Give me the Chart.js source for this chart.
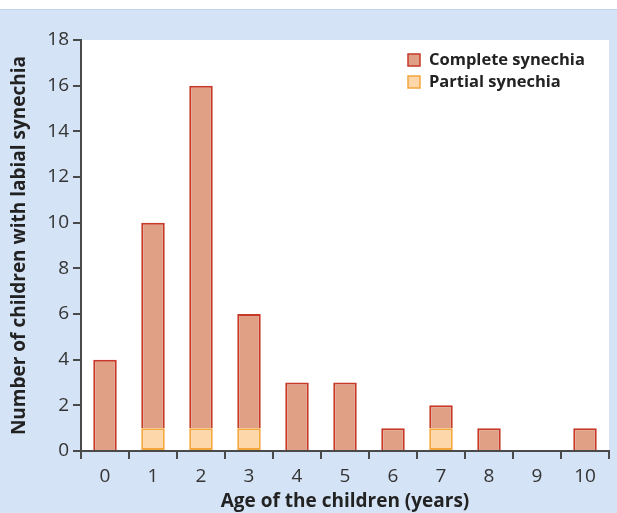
<!DOCTYPE html>
<html>
<head>
<meta charset="utf-8">
<script src="https://cdn.jsdelivr.net/npm/chart.js@4.4.0/dist/chart.umd.min.js"></script>
<style>
  body { margin: 0; background: #fff; }
  #wrap { position: relative; width: 617px; height: 513px; }
  #bg { position: absolute; left: 0; top: 9px; width: 617px; height: 504px; background: #d4e3f5; border-top: 1px solid #c3d5ee; box-sizing: border-box; }
  #chart { position: absolute; left: 0; top: 0; }
</style>
</head>
<body>
<div id="wrap">
  <div id="bg"></div>
  <canvas id="chart" width="617" height="513"></canvas>
</div>
<script>
// age groups
const ages = ['0', '1', '2', '3', '4', '5', '6', '7', '8', '9', '10'];
// children per age
const partial = [0, 1, 1, 1, 0, 0, 0, 1, 0, 0, 0];
const complete = [4, 9, 15, 5, 3, 3, 1, 1, 1, 0, 1];
const yTicks = [0, 2, 4, 6, 8, 10, 12, 14, 16, 18];

const FONT = "'Open Sans', 'DejaVu Sans', sans-serif";

// white plot background
const plotBg = {
  id: 'plotBg',
  beforeDraw(chart) {
    const a = chart.chartArea, c = chart.ctx;
    c.save();
    c.fillStyle = '#fff';
    c.fillRect(a.left, a.top, a.right - a.left, a.bottom - a.top);
    c.restore();
  }
};

// legend box top right, complete first
const boxLegend = {
  id: 'boxLegend',
  afterDraw(chart) {
    const c = chart.ctx;
    const items = chart.data.datasets.slice().reverse();
    c.save();
    c.font = 'bold 16.5px ' + FONT;
    c.textBaseline = 'middle';
    items.forEach((ds, i) => {
      const y = 60 + i * 22;
      c.fillStyle = ds.backgroundColor;
      c.fillRect(408, y - 6, 12, 12);
      c.strokeStyle = ds.borderColor;
      c.lineWidth = 1.5;
      c.strokeRect(408, y - 6, 12, 12);
      c.fillStyle = '#222';
      c.fillText(ds.label, 429, y);
    });
    c.restore();
  }
};

new Chart(document.getElementById('chart'), {
  type: 'bar',
  data: {
    labels: ages,
    datasets: [
      {
        label: 'Partial synechia',
        data: partial.map(v => v || null),
        backgroundColor: '#fdd7aa',
        borderColor: '#f4a53c',
        borderWidth: 2,
        borderSkipped: false
      },
      {
        label: 'Complete synechia',
        data: complete.map(v => v || null),
        backgroundColor: '#e0a085',
        borderColor: '#c8392a',
        borderWidth: 2,
        borderSkipped: 'bottom'
      }
    ]
  },
  options: {
    responsive: false,
    animation: false,
    layout: { padding: { left: 0, top: 40, right: 8, bottom: 0 } },
    datasets: { bar: { barPercentage: 0.49, categoryPercentage: 1 } },
    plugins: { legend: { display: false }, tooltip: { enabled: false } },
    scales: {
      x: {
        stacked: true,
        afterFit: s => { s.height = 62; },
        grid: { offset: true, drawOnChartArea: false, drawTicks: true, tickLength: 8, color: '#4a4a4a', lineWidth: 2 },
        border: { color: '#4a4a4a', width: 2 },
        ticks: { color: '#333', font: { family: FONT, size: 19 }, padding: 6 },
        title: { display: true, text: 'Age of the children (years)', color: '#222', font: { family: FONT, size: 19, weight: 'bold' }, padding: { top: 0, bottom: 0 } }
      },
      y: {
        stacked: true,
        min: 0,
        max: 18,
        afterFit: s => { s.width = 81; },
        afterBuildTicks: s => { s.ticks = yTicks.map(v => ({ value: v })); },
        grid: { drawOnChartArea: false, drawTicks: true, tickLength: 8, color: '#4a4a4a', lineWidth: 2 },
        border: { color: '#4a4a4a', width: 2 },
        ticks: { color: '#333', font: { family: FONT, size: 19 }, padding: 4 },
        title: { display: true, text: 'Number of children with labial synechia', color: '#222', font: { family: FONT, size: 19, weight: 'bold' }, padding: { top: 8, bottom: 0 } }
      }
    }
  },
  plugins: [plotBg, boxLegend]
});
</script>
</body>
</html>
